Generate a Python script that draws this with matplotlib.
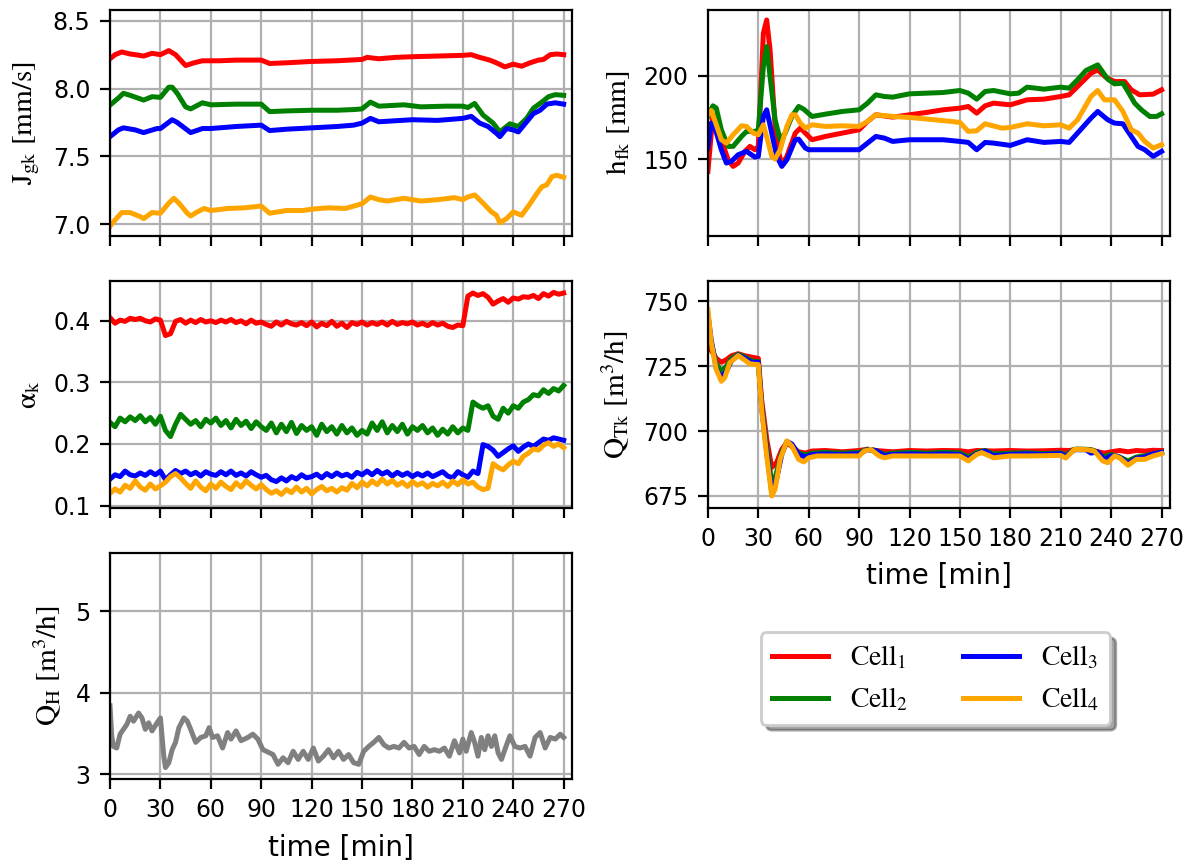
import matplotlib
matplotlib.use("Agg")
import matplotlib.pyplot as plt
import numpy as np

plt.rcParams['mathtext.fontset'] = 'stix'

# Series colours for the four flotation cells
cell_colors = ['red', 'green', 'blue', 'orange']
cell_labels = [r'$\mathrm{Cell_1}$', r'$\mathrm{Cell_2}$', r'$\mathrm{Cell_3}$', r'$\mathrm{Cell_4}$']

# Gas superficial velocity J_gk [mm/s]  -> (time [min], value)
jgk_1 = [(0, 8.22), (3, 8.25), (7, 8.27), (12, 8.255), (15, 8.25), (20, 8.24), (25, 8.26), (30, 8.25),
         (35, 8.28), (39, 8.25), (45, 8.17), (50, 8.19), (55, 8.205), (65, 8.205), (75, 8.21), (90, 8.21),
         (95, 8.185), (105, 8.19), (120, 8.20), (135, 8.205), (150, 8.215), (153, 8.23), (160, 8.22),
         (170, 8.23), (180, 8.235), (195, 8.24), (210, 8.245), (215, 8.25), (220, 8.23), (226, 8.21),
         (230, 8.19), (235, 8.16), (240, 8.18), (245, 8.165), (250, 8.19), (255, 8.21), (258, 8.215),
         (262, 8.25), (266, 8.255), (270, 8.25)]
jgk_2 = [(0, 7.878), (5, 7.93), (8, 7.965), (12, 7.95), (20, 7.915), (25, 7.94), (30, 7.935), (35, 8.01),
         (37, 8.01), (40, 7.965), (45, 7.865), (48, 7.85), (55, 7.895), (60, 7.88), (75, 7.885), (90, 7.885),
         (95, 7.83), (105, 7.835), (120, 7.84), (135, 7.84), (145, 7.845), (150, 7.85), (155, 7.90),
         (160, 7.87), (175, 7.88), (185, 7.865), (200, 7.87), (210, 7.87), (213, 7.86), (217, 7.89),
         (222, 7.805), (228, 7.745), (232, 7.68), (238, 7.74), (243, 7.72), (248, 7.78), (252, 7.855),
         (257, 7.90), (261, 7.94), (265, 7.955), (270, 7.95)]
jgk_3 = [(0, 7.645), (5, 7.695), (8, 7.71), (15, 7.695), (20, 7.675), (28, 7.705), (30, 7.705), (37, 7.77),
         (40, 7.75), (48, 7.675), (55, 7.705), (60, 7.705), (75, 7.72), (90, 7.73), (95, 7.69), (105, 7.70),
         (120, 7.71), (135, 7.72), (145, 7.73), (150, 7.745), (155, 7.78), (160, 7.755), (180, 7.77),
         (195, 7.765), (210, 7.78), (215, 7.795), (220, 7.745), (225, 7.72), (230, 7.67), (232, 7.645),
         (236, 7.705), (240, 7.695), (243, 7.68), (248, 7.755), (252, 7.815), (256, 7.84), (260, 7.885),
         (265, 7.895), (270, 7.885)]
jgk_4 = [(0, 6.985), (3, 7.03), (7, 7.085), (12, 7.085), (18, 7.055), (20, 7.04), (25, 7.085), (30, 7.08),
         (35, 7.155), (38, 7.19), (41, 7.155), (46, 7.08), (48, 7.06), (52, 7.09), (56, 7.115), (60, 7.10),
         (70, 7.115), (80, 7.12), (90, 7.133), (95, 7.08), (105, 7.10), (115, 7.10), (120, 7.11),
         (130, 7.12), (140, 7.115), (150, 7.15), (155, 7.20), (160, 7.18), (165, 7.17), (175, 7.19),
         (185, 7.17), (195, 7.18), (205, 7.195), (210, 7.18), (213, 7.20), (217, 7.215), (222, 7.155),
         (227, 7.09), (230, 7.065), (232, 7.01), (236, 7.04), (240, 7.09), (245, 7.065), (250, 7.15),
         (254, 7.225), (257, 7.275), (260, 7.29), (263, 7.35), (266, 7.36), (270, 7.345)]

# Froth height h_fk [mm]
hfk_1 = [(0, 142.6), (3, 176.6), (5, 171.6), (8, 161.6), (12, 149.6), (15, 145.6), (18, 147.6), (22, 154.6),
         (25, 157.6), (28, 155.6), (30, 157.6), (33, 225.6), (35, 233.6), (37, 215.6), (40, 169.6),
         (42, 154.6), (44, 146.6), (47, 151.6), (52, 165.6), (55, 168.6), (58, 165.6), (62, 161.6),
         (70, 163.6), (80, 165.6), (90, 167.6), (95, 172.6), (100, 176.6), (110, 175.2), (120, 176.6),
         (130, 178.0), (140, 179.6), (150, 180.6), (155, 181.6), (160, 177.6), (165, 182.0), (170, 183.6),
         (180, 182.6), (190, 185.6), (200, 186.0), (210, 187.6), (215, 188.6), (220, 193.6), (228, 201.6),
         (232, 203.6), (237, 199.0), (242, 196.6), (248, 196.6), (252, 191.6), (257, 188.6), (265, 189.0),
         (270, 191.6)]
hfk_2 = [(0, 175.6), (3, 182.0), (5, 180.6), (8, 167.6), (12, 157.6), (15, 157.6), (20, 163.6), (23, 166.6),
         (28, 166.6), (30, 167.6), (33, 205.6), (35, 217.6), (37, 199.6), (40, 173.6), (43, 161.6),
         (46, 165.6), (50, 175.6), (54, 181.6), (57, 180.0), (62, 175.6), (70, 177.0), (80, 178.6),
         (90, 179.6), (95, 183.6), (100, 188.6), (105, 187.6), (110, 187.2), (120, 189.2), (140, 190.0),
         (150, 191.2), (155, 189.6), (160, 186.0), (165, 190.6), (170, 191.2), (180, 189.2), (185, 189.6),
         (190, 193.2), (200, 192.0), (210, 193.2), (215, 192.6), (220, 197.6), (225, 203.2), (232, 206.6),
         (238, 198.0), (242, 195.2), (247, 195.6), (250, 190.6), (254, 183.6), (258, 179.6), (263, 175.6),
         (267, 175.6), (270, 177.2)]
hfk_3 = [(0, 157.0), (2, 171.6), (4, 169.6), (8, 155.6), (11, 147.6), (14, 148.6), (18, 152.6), (23, 154.6),
         (28, 151.2), (30, 151.6), (33, 175.6), (35, 179.6), (38, 165.6), (41, 151.6), (44, 145.6),
         (47, 149.6), (52, 161.6), (54, 162.0), (58, 156.6), (60, 155.6), (80, 155.6), (90, 155.6),
         (95, 159.6), (100, 163.6), (105, 162.6), (110, 160.6), (120, 161.6), (140, 161.6), (150, 160.6),
         (155, 160.0), (160, 155.6), (165, 160.0), (170, 159.6), (180, 158.2), (190, 161.6), (200, 160.0),
         (210, 160.6), (215, 160.0), (220, 165.6), (228, 174.6), (232, 178.6), (238, 173.6), (242, 171.6),
         (247, 171.2), (252, 163.6), (256, 157.6), (260, 155.6), (265, 151.6), (270, 154.6)]
hfk_4 = [(0, 176.6), (2, 179.2), (5, 170.6), (8, 161.6), (11, 159.6), (15, 164.6), (20, 170.0), (23, 169.6),
         (27, 165.6), (30, 164.6), (33, 170.6), (36, 159.6), (38, 151.6), (40, 150.0), (43, 155.6),
         (47, 169.6), (50, 176.6), (52, 176.6), (55, 171.6), (58, 168.6), (62, 170.6), (70, 169.6),
         (80, 170.0), (90, 169.6), (95, 172.6), (100, 176.6), (110, 175.6), (120, 175.0), (135, 173.6),
         (145, 172.6), (150, 172.0), (155, 166.6), (160, 167.0), (165, 171.2), (175, 168.6), (180, 169.0),
         (190, 171.2), (200, 170.0), (210, 170.6), (215, 168.6), (220, 173.6), (228, 187.6), (232, 191.2),
         (236, 185.6), (242, 185.6), (247, 178.6), (252, 167.6), (256, 165.6), (260, 160.6), (265, 156.6),
         (270, 158.6)]

# Air holdup alpha_k [-], sampled every 3 min
t_alpha = np.arange(0, 271, 3)
alpha_1 = [0.405, 0.396, 0.401, 0.399, 0.404, 0.402, 0.404, 0.400, 0.398, 0.403, 0.401, 0.376, 0.379, 0.399,
           0.402, 0.396, 0.401, 0.397, 0.402, 0.398, 0.400, 0.397, 0.401, 0.398, 0.402, 0.397, 0.400, 0.395,
           0.401, 0.396, 0.398, 0.394, 0.391, 0.398, 0.393, 0.399, 0.395, 0.393, 0.397, 0.392, 0.398, 0.390,
           0.396, 0.392, 0.399, 0.391, 0.396, 0.389, 0.397, 0.394, 0.398, 0.393, 0.397, 0.394, 0.398, 0.393,
           0.399, 0.394, 0.397, 0.395, 0.398, 0.393, 0.396, 0.392, 0.397, 0.393, 0.396, 0.391, 0.389, 0.393,
           0.392, 0.440, 0.445, 0.441, 0.444, 0.438, 0.427, 0.432, 0.436, 0.430, 0.437, 0.435, 0.439, 0.438,
           0.441, 0.436, 0.444, 0.440, 0.446, 0.443, 0.445]
alpha_2 = [0.235, 0.228, 0.242, 0.236, 0.244, 0.238, 0.246, 0.236, 0.243, 0.232, 0.245, 0.222, 0.212, 0.232,
           0.248, 0.240, 0.232, 0.238, 0.228, 0.240, 0.234, 0.242, 0.230, 0.238, 0.226, 0.240, 0.230, 0.237,
           0.225, 0.236, 0.228, 0.222, 0.234, 0.218, 0.232, 0.220, 0.235, 0.217, 0.230, 0.222, 0.228, 0.214,
           0.232, 0.220, 0.228, 0.216, 0.230, 0.218, 0.226, 0.214, 0.222, 0.216, 0.234, 0.222, 0.236, 0.218,
           0.230, 0.220, 0.232, 0.216, 0.228, 0.222, 0.230, 0.218, 0.226, 0.214, 0.224, 0.216, 0.228, 0.218,
           0.226, 0.222, 0.268, 0.262, 0.258, 0.262, 0.245, 0.240, 0.258, 0.250, 0.262, 0.258, 0.268, 0.272,
           0.280, 0.278, 0.288, 0.282, 0.290, 0.286, 0.295]
alpha_3 = [0.143, 0.150, 0.147, 0.156, 0.150, 0.148, 0.153, 0.149, 0.155, 0.150, 0.156, 0.142, 0.150, 0.157,
           0.152, 0.156, 0.150, 0.154, 0.148, 0.155, 0.151, 0.149, 0.155, 0.150, 0.156, 0.149, 0.153, 0.148,
           0.155, 0.150, 0.146, 0.149, 0.142, 0.139, 0.145, 0.140, 0.147, 0.143, 0.150, 0.145, 0.147, 0.151,
           0.145, 0.152, 0.147, 0.153, 0.148, 0.151, 0.146, 0.154, 0.150, 0.156, 0.150, 0.157, 0.151, 0.155,
           0.148, 0.154, 0.149, 0.153, 0.147, 0.152, 0.148, 0.153, 0.147, 0.151, 0.155, 0.148, 0.145, 0.155,
           0.150, 0.146, 0.156, 0.152, 0.199, 0.196, 0.190, 0.180, 0.186, 0.192, 0.197, 0.188, 0.195, 0.200,
           0.196, 0.202, 0.208, 0.206, 0.210, 0.208, 0.206]
alpha_4 = [0.120, 0.127, 0.122, 0.133, 0.128, 0.140, 0.130, 0.125, 0.135, 0.127, 0.132, 0.138, 0.147, 0.152,
           0.145, 0.136, 0.128, 0.140, 0.130, 0.124, 0.135, 0.128, 0.138, 0.131, 0.126, 0.137, 0.130, 0.140,
           0.133, 0.127, 0.134, 0.126, 0.120, 0.124, 0.118, 0.126, 0.121, 0.130, 0.122, 0.128, 0.119, 0.126,
           0.131, 0.124, 0.128, 0.122, 0.129, 0.125, 0.136, 0.129, 0.138, 0.132, 0.140, 0.134, 0.143, 0.135,
           0.141, 0.133, 0.138, 0.131, 0.139, 0.133, 0.137, 0.130, 0.136, 0.132, 0.138, 0.131, 0.140, 0.134,
           0.142, 0.135, 0.138, 0.130, 0.126, 0.128, 0.168, 0.162, 0.158, 0.166, 0.172, 0.168, 0.180, 0.185,
           0.192, 0.190, 0.198, 0.202, 0.196, 0.200, 0.194]

# Tailings flow Q_Tk [m3/h]
qtk_1 = [(0, 733), (2, 731), (5, 728), (8, 726.5), (11, 727.5), (14, 729), (18, 729.8), (22, 729),
         (26, 728.5), (30, 728), (32, 712), (35, 697), (38, 686), (41, 688), (44, 693), (47, 695.5),
         (50, 694), (54, 692), (58, 691.5), (62, 692.3), (70, 692.5), (80, 692), (90, 692.5), (95, 693),
         (100, 692.5), (110, 692), (120, 692.5), (130, 692.3), (140, 692.5), (150, 692.4), (155, 692),
         (160, 692.5), (170, 692.3), (180, 692.5), (190, 692.3), (200, 692.4), (210, 692.6), (215, 692.5),
         (220, 693), (228, 692.8), (232, 692), (236, 691.5), (240, 692), (245, 692.5), (250, 692),
         (255, 692.5), (260, 692.3), (265, 692.6), (270, 692.5)]
qtk_2 = [(0, 740), (2, 734), (5, 726), (8, 723), (11, 725), (14, 728), (18, 729.6), (22, 728.5),
         (26, 727), (30, 726.8), (32, 710), (35, 694), (38, 680), (40, 682), (44, 692), (47, 695.5),
         (50, 694.5), (54, 691.5), (58, 690.8), (62, 691.5), (70, 691.8), (80, 691.5), (90, 691.8),
         (95, 693), (100, 692.5), (105, 691), (110, 691.5), (120, 691.8), (130, 691.5), (140, 691.8),
         (150, 691.6), (155, 690), (160, 691.8), (165, 692.5), (170, 691.2), (180, 691.5), (190, 691.6),
         (200, 691.3), (210, 691.6), (213, 690.8), (218, 693), (225, 693), (230, 692.5), (235, 690),
         (240, 691), (245, 690), (250, 688.5), (255, 690), (260, 690.5), (265, 691.2), (270, 691.8)]
qtk_3 = [(0, 745), (2, 735), (5, 724), (8, 720.5), (11, 723), (14, 727), (18, 729.3), (22, 728),
         (26, 726.5), (30, 726.5), (32, 709), (35, 692), (38, 676.5), (40, 679), (44, 691), (47, 696),
         (50, 695), (54, 691), (58, 690), (62, 691), (70, 691.2), (80, 691), (90, 691.3), (95, 692.8),
         (100, 692.5), (105, 690.5), (110, 691), (120, 691.2), (130, 691), (140, 691.2), (150, 691),
         (155, 689.2), (160, 691.3), (165, 692.3), (170, 690.5), (180, 691), (190, 691.2), (200, 691),
         (210, 691.3), (213, 690.3), (218, 692.8), (225, 692.8), (228, 691.5), (232, 692), (236, 689),
         (240, 690.5), (245, 690), (250, 687.5), (255, 689.5), (260, 690), (265, 691.2), (270, 691.8)]
qtk_4 = [(0, 746.8), (2, 734), (5, 723.7), (8, 719.2), (10, 720.5), (13, 726.3), (18, 729.1), (22, 727.3),
         (25, 725.9), (30, 725.6), (32, 708.3), (35, 690.4), (38, 675), (40, 677.6), (43, 689.1),
         (47, 696.2), (50, 694.2), (54, 689.1), (57, 688.1), (60, 689.7), (65, 690.4), (90, 690.4),
         (93, 692.3), (97, 692.9), (102, 690.4), (105, 689.7), (110, 690.4), (130, 690.4), (150, 690.4),
         (155, 688.5), (160, 691), (163, 691.7), (170, 689.7), (180, 690.4), (190, 690.4), (210, 690.6),
         (213, 689.6), (218, 692.9), (225, 692.9), (230, 692.3), (235, 688.5), (238, 687.8), (242, 690.4),
         (245, 689.7), (250, 686.8), (255, 689.1), (260, 689.1), (265, 690.4), (270, 691.3)]

# Wash water flow Q_H [m3/h]
qh = [(0, 3.84), (1, 3.47), (2, 3.34), (4, 3.32), (6, 3.49), (8, 3.55), (10, 3.61), (12, 3.71), (14, 3.65),
      (17, 3.75), (19, 3.69), (21, 3.55), (23, 3.63), (25, 3.53), (28, 3.63), (30, 3.69), (32, 3.22),
      (33, 3.08), (35, 3.14), (37, 3.30), (39, 3.39), (41, 3.57), (44, 3.69), (46, 3.65), (48, 3.55),
      (51, 3.39), (54, 3.45), (57, 3.47), (59, 3.57), (61, 3.45), (64, 3.47), (67, 3.32), (70, 3.51),
      (72, 3.43), (75, 3.53), (78, 3.41), (82, 3.45), (85, 3.49), (88, 3.43), (91, 3.30), (94, 3.27),
      (97, 3.24), (100, 3.12), (103, 3.20), (106, 3.14), (109, 3.28), (112, 3.18), (115, 3.28),
      (118, 3.18), (121, 3.32), (124, 3.16), (127, 3.22), (130, 3.30), (133, 3.20), (136, 3.28),
      (139, 3.18), (142, 3.24), (145, 3.14), (148, 3.12), (151, 3.28), (154, 3.34), (157, 3.39),
      (160, 3.45), (163, 3.36), (166, 3.32), (169, 3.34), (172, 3.32), (175, 3.39), (178, 3.32),
      (181, 3.34), (184, 3.24), (187, 3.34), (190, 3.28), (193, 3.30), (196, 3.28), (199, 3.32),
      (202, 3.22), (205, 3.41), (208, 3.26), (210, 3.43), (212, 3.28), (215, 3.51), (217, 3.39),
      (219, 3.22), (221, 3.45), (223, 3.30), (225, 3.47), (227, 3.34), (229, 3.47), (231, 3.26),
      (233, 3.18), (235, 3.30), (238, 3.47), (241, 3.34), (244, 3.32), (247, 3.34), (250, 3.22),
      (253, 3.45), (256, 3.51), (259, 3.32), (262, 3.45), (265, 3.43), (268, 3.49), (270, 3.45)]

time_ticks = np.arange(0, 271, 30)
lw = 1.8

fig, axs = plt.subplots(3, 2, figsize=(5.94, 4.33), dpi=200, sharex=True)
fig.subplots_adjust(left=0.0926, right=0.9848, bottom=0.1005, top=0.9885, wspace=0.294, hspace=0.199)

ax_j, ax_h = axs[0]
ax_a, ax_q = axs[1]
ax_w = axs[2, 0]
fig.delaxes(axs[2, 1])

# Gas velocity
for series, c in zip([jgk_1, jgk_2, jgk_3, jgk_4], cell_colors):
    t, v = zip(*series)
    ax_j.plot(t, v, color=c, lw=lw)
ax_j.set_ylim(6.91, 8.58)
ax_j.set_yticks([7.0, 7.5, 8.0, 8.5])
ax_j.set_ylabel(r'$\mathrm{J_{gk}\ [mm/s]}$', fontsize=10.5)

# Froth height
for series, c in zip([hfk_1, hfk_2, hfk_3, hfk_4], cell_colors):
    t, v = zip(*series)
    ax_h.plot(t, v, color=c, lw=lw)
ax_h.set_ylim(103.6, 239.6)
ax_h.set_yticks([150, 200])
ax_h.set_ylabel(r'$\mathrm{h_{fk}\ [mm]}$', fontsize=10.5)

# Air holdup
for series, c in zip([alpha_1, alpha_2, alpha_3, alpha_4], cell_colors):
    ax_a.plot(t_alpha, series, color=c, lw=lw)
ax_a.set_ylim(0.0967, 0.464)
ax_a.set_yticks([0.1, 0.2, 0.3, 0.4])
ax_a.set_ylabel(r'$\mathrm{\alpha_k}$', fontsize=10.5)

# Tailings flow
for series, c, lab in zip([qtk_1, qtk_2, qtk_3, qtk_4], cell_colors, cell_labels):
    t, v = zip(*series)
    ax_q.plot(t, v, color=c, lw=lw, label=lab)
ax_q.set_ylim(670.5, 757.7)
ax_q.set_yticks([675, 700, 725, 750])
ax_q.set_ylabel(r'$\mathrm{Q_{Tk}\ [m^3/h]}$', fontsize=10.5)
ax_q.xaxis.set_tick_params(labelbottom=True)
ax_q.set_xlabel('time [min]', fontsize=10)

# Wash water
t, v = zip(*qh)
ax_w.plot(t, v, color='gray', lw=lw)
ax_w.set_ylim(2.94, 5.72)
ax_w.set_yticks([3, 4, 5])
ax_w.set_ylabel(r'$\mathrm{Q_H\ [m^3/h]}$', fontsize=10.5)
ax_w.set_xlabel('time [min]', fontsize=10)

for ax in [ax_j, ax_h, ax_a, ax_q, ax_w]:
    ax.set_xlim(0, 275)
    ax.set_xticks(time_ticks)
    ax.grid(True)
    ax.tick_params(labelsize=8.5)

fig.legend(*ax_q.get_legend_handles_labels(), loc='center', ncol=2, shadow=True,
           bbox_to_anchor=(0.7875, 0.2165), fontsize=10)

fig.savefig('out.png', dpi=200)
